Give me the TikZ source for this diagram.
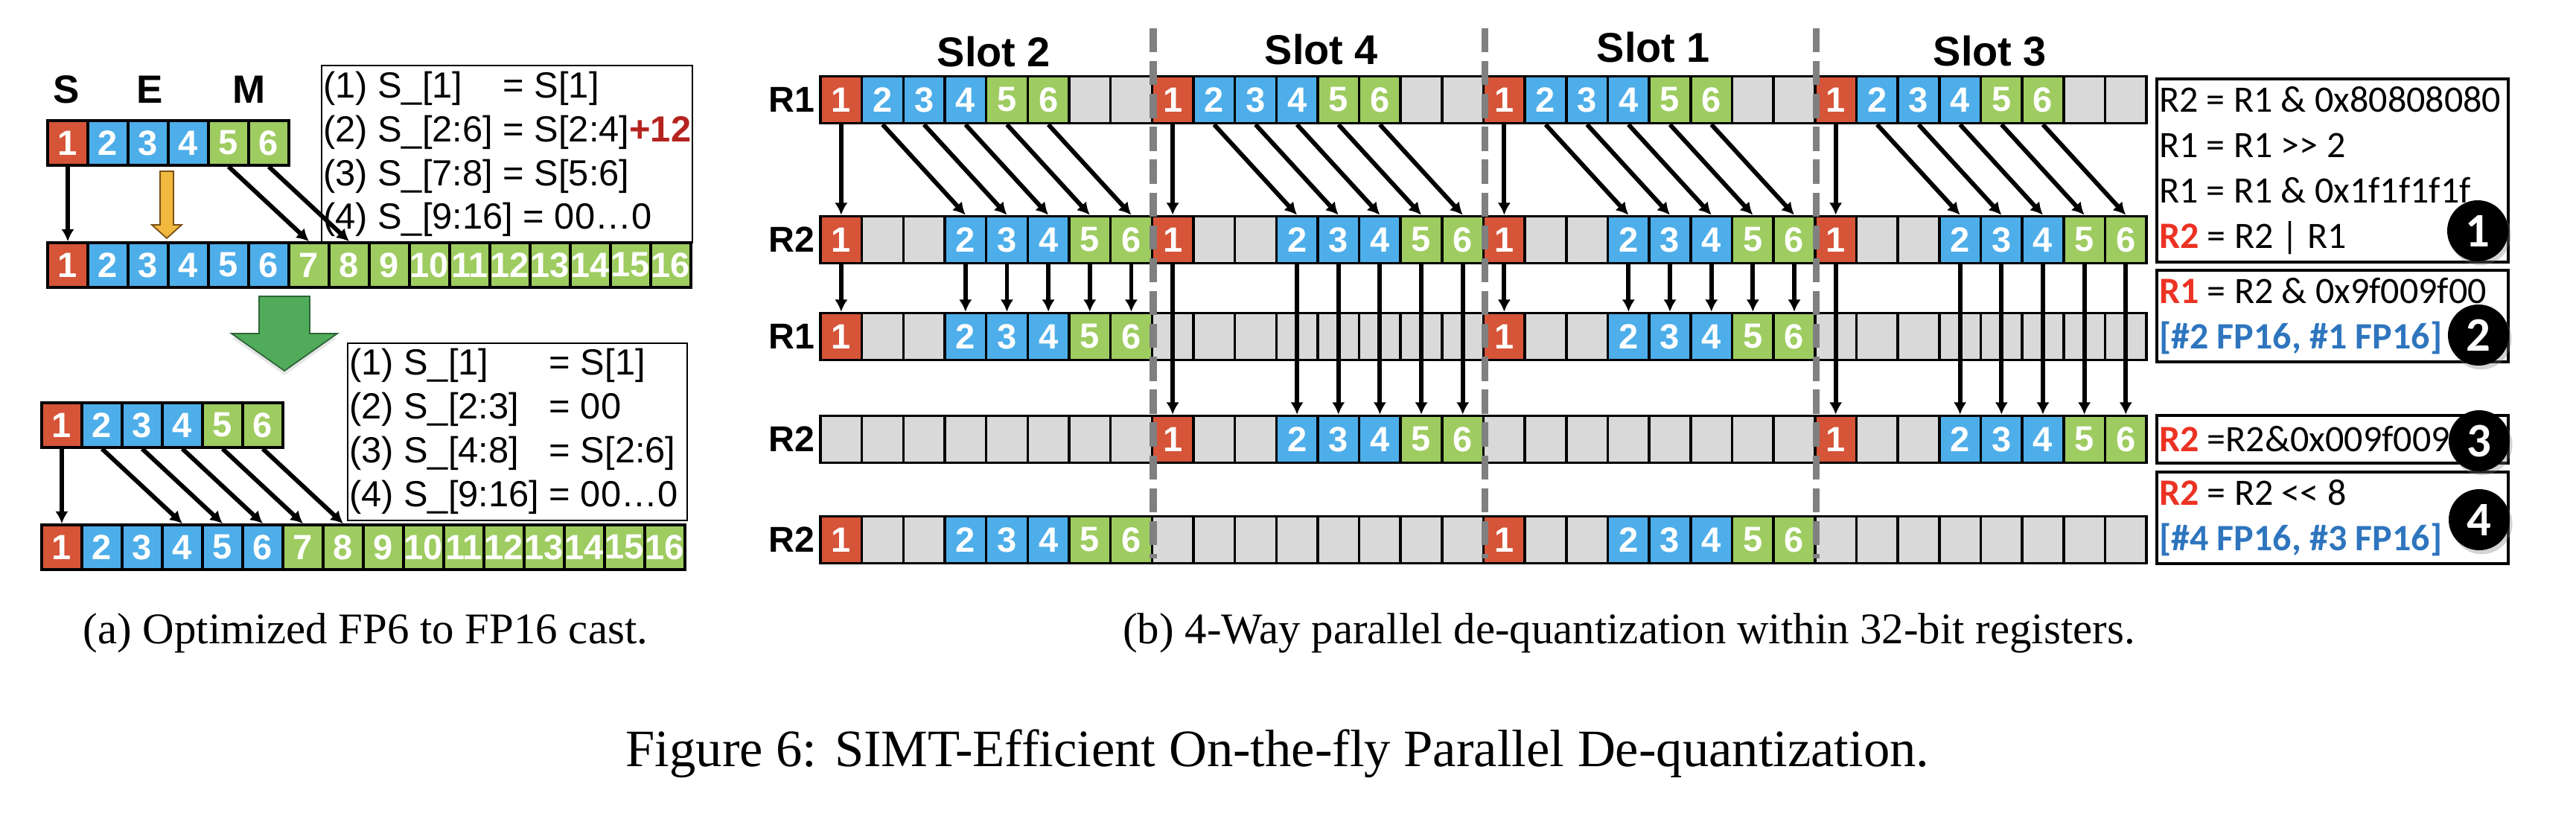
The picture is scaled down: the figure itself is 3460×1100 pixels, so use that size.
\documentclass[tikz,border=0pt]{standalone}
\usepackage{fontspec}
\setmainfont{Liberation Serif}
\setsansfont{Liberation Sans}
\newfontfamily\calfont{Carlito}
\usetikzlibrary{arrows.meta}
\usetikzlibrary{shadows}

\definecolor{CellRed}{RGB}{214,84,56}
\definecolor{CellBlue}{RGB}{77,174,234}
\definecolor{CellGreen}{RGB}{158,204,96}
\definecolor{CellGray}{RGB}{217,217,217}
\definecolor{RegRed}{RGB}{235,50,35}
\definecolor{FpBlue}{RGB}{46,117,190}
\definecolor{PlusRed}{RGB}{180,35,30}
\definecolor{ArrOrange}{RGB}{242,185,64}
\definecolor{ArrOrangeDark}{RGB}{120,80,20}
\definecolor{ArrGreen}{RGB}{80,172,90}
\definecolor{ArrGreenDark}{RGB}{45,100,55}
\definecolor{SepGray}{RGB}{128,128,128}

\def\px{0.17pt}
% one slot of R1, and one slot after the shift
\def\regpat{1/RedCell/1,2/BlueCell/2,3/BlueCell/3,4/BlueCell/4,5/GreenCell/5,6/GreenCell/6,7/GrayCell/{},8/GrayCell/{}}
\def\shiftpat{1/RedCell/1,2/GrayCell/{},3/GrayCell/{},4/BlueCell/2,5/BlueCell/3,6/BlueCell/4,7/GreenCell/5,8/GreenCell/6}

\begin{document}
\begin{tikzpicture}[x = 0.17pt, y = -0.17pt]
\tikzstyle{CellStyle}=[draw = black, line width = 0.6pt,
                       minimum width = 54*\px, minimum height = 60*\px,
                       inner sep = 0pt, text = white,
                       font = \sffamily\bfseries\fontsize{8}{8}\selectfont]
\tikzstyle{WideCell}=[CellStyle, minimum width = 55.66*\px, minimum height = 63*\px]
\tikzstyle{RedCell}=[fill = CellRed]
\tikzstyle{BlueCell}=[fill = CellBlue]
\tikzstyle{GreenCell}=[fill = CellGreen]
\tikzstyle{GrayCell}=[fill = CellGray]
\tikzstyle{Arr}=[-{Latex[length = 2.8pt, width = 3pt]}, line width = 1pt]
\tikzstyle{BoxStyle}=[draw = black, line width = 0.35pt, inner sep = 0pt]
\tikzstyle{FormulaText}=[font = \sffamily\fontsize{8.3}{10}\selectfont,
                         align = left, inner sep = 0pt, anchor = west]
\tikzstyle{OpBox}=[draw = black, line width = 0.55pt,
                   minimum width = 472*\px, inner sep = 0pt]
\tikzstyle{OpText}=[font = \calfont\fontsize{8.5}{10.4}\selectfont,
                    align = left, inner sep = 0pt, anchor = west]
\tikzstyle{NumDot}=[circle, fill = black, text = white, minimum size = 82*\px,
                    inner sep = 0pt, font = \calfont\bfseries\fontsize{11}{12}\selectfont,
                    drop shadow = {opacity = 0.35, shadow xshift = 0.6pt, shadow yshift = -0.9pt}]
\tikzstyle{FieldLabel}=[font = \sffamily\bfseries\fontsize{9}{10}\selectfont]
\tikzstyle{SlotLabel}=[font = \sffamily\bfseries\fontsize{9.5}{10}\selectfont]
\tikzstyle{RowLabel}=[font = \sffamily\bfseries\fontsize{8.2}{9}\selectfont]
\tikzstyle{SlotSep}=[draw = SepGray, line width = 1.6pt, dash pattern = on 5.5pt off 2pt]
\useasboundingbox (0,0) rectangle (3460,1100);

% (a) FP6 -> FP16, naive
\node[FieldLabel] (fS) at (89,120) {S};
\node[FieldLabel] (fE) at (201,120) {E};
\node[FieldLabel] (fM) at (335,120) {M};
\node[BoxStyle, minimum width = 498*\px, minimum height = 238*\px] (boxA) at (681,207) {};
\node[FormulaText] (txtA) at ([xshift = 0.35pt]boxA.west)
  {(1) S\_[1]\phantom{:6} = S[1]\\
   (2) S\_[2:6] = S[2:4]{\bfseries\color{PlusRed}+12}\\
   (3) S\_[7:8] = S[5:6]\\
   (4) S\_[9:16] = 00…0};
\foreach \i/\sty in {1/RedCell,2/BlueCell,3/BlueCell,4/BlueCell,5/GreenCell,6/GreenCell}
  \node[CellStyle, \sty] (s\i) at ({91+54*(\i-1)},192) {\i};
\foreach \i in {1,...,16} {
  \ifnum\i=1 \def\sty{RedCell}\else\ifnum\i<7 \def\sty{BlueCell}\else\def\sty{GreenCell}\fi\fi
  \node[CellStyle, \sty] (t\i) at ({91+54*(\i-1)},356) {\i};
}
\draw[Arr] (s1.south) -- (t1.north);
\draw[Arr] (s5.south) -- (t7.north);
\draw[Arr] (s6.south) -- (t8.north);
\filldraw[fill = ArrOrange, draw = ArrOrangeDark, line width = 0.3pt]
  (215,230) -- (233,230) -- (233,302) -- (244,302) -- (224,320) -- (204,302) -- (215,302) -- cycle;
\filldraw[fill = ArrGreen, draw = ArrGreenDark, line width = 0.3pt,
          drop shadow = {opacity = 0.2, shadow xshift = 0pt, shadow yshift = -1pt}]
  (348,398) -- (416,398) -- (416,448) -- (453,448) -- (382,498) -- (311,448) -- (348,448) -- cycle;

% (a) optimized
\node[BoxStyle, minimum width = 456*\px, minimum height = 238*\px] (boxB) at (695,580) {};
\node[FormulaText] (txtB) at ([xshift = 0.35pt]boxB.west)
  {\begin{tabular}{@{}l@{ }l@{}}
   (1) S\_[1] & = S[1]\\
   (2) S\_[2:3] & = 00\\
   (3) S\_[4:8] & = S[2:6]\\
   (4) S\_[9:16] & = 00…0
   \end{tabular}};
\foreach \i/\sty in {1/RedCell,2/BlueCell,3/BlueCell,4/BlueCell,5/GreenCell,6/GreenCell}
  \node[CellStyle, \sty] (m\i) at ({83+54*(\i-1)},571) {\i};
\foreach \i in {1,...,16} {
  \ifnum\i=1 \def\sty{RedCell}\else\ifnum\i<7 \def\sty{BlueCell}\else\def\sty{GreenCell}\fi\fi
  \node[CellStyle, \sty] (n\i) at ({83+54*(\i-1)},735) {\i};
}
\draw[Arr] (m1.south) -- (n1.north);
\foreach \k in {2,...,6} {
  \pgfmathtruncatemacro\dst{\k+2}
  \draw[Arr] (m\k.south) -- (n\dst.north);
}

% (b) four slots in one 32-bit register
\node[SlotLabel] (slot2) at (1335,70) {Slot 2};
\node[SlotLabel] (slot4) at (1775,67) {Slot 4};
\node[SlotLabel] (slot1) at (2221,64) {Slot 1};
\node[SlotLabel] (slot3) at (2673,69) {Slot 3};
\node[RowLabel] (ra) at (1063,134) {R1};
\node[RowLabel] (rb) at (1063,322) {R2};
\node[RowLabel] (rc) at (1063,452) {R1};
\node[RowLabel] (rd) at (1063,590) {R2};
\node[RowLabel] (re) at (1063,725) {R2};
\foreach \s in {0,...,3}
  \foreach \k/\sty/\lab in \regpat {
    \pgfmathtruncatemacro\i{8*\s+\k}
    \node[WideCell, \sty] (a\i) at ({1102+55.66*(\i-0.5)},134) {\lab};
  }
\foreach \s in {0,...,3}
  \foreach \k/\sty/\lab in \shiftpat {
    \pgfmathtruncatemacro\i{8*\s+\k}
    \node[WideCell, \sty] (b\i) at ({1102+55.66*(\i-0.5)},322) {\lab};
  }
\foreach \row/\y/\slots in {c/452/{0,2}, d/590/{1,3}, e/725/{0,2}} {
  \foreach \i in {1,...,32}
    \node[WideCell, GrayCell] (\row\i) at ({1102+55.66*(\i-0.5)},\y) {};
  \foreach \s in \slots
    \foreach \k/\sty/\lab in \shiftpat {
      \pgfmathtruncatemacro\i{8*\s+\k}
      \node[WideCell, \sty] (\row\i) at ({1102+55.66*(\i-0.5)},\y) {\lab};
    }
}
\foreach \s in {0,...,3}
  \foreach \k/\sh in {1/0,2/2,3/2,4/2,5/2,6/2} {
    \pgfmathtruncatemacro\src{8*\s+\k}
    \pgfmathtruncatemacro\dst{8*\s+\k+\sh}
    \draw[Arr] (a\src.south) -- (b\dst.north);
  }
\foreach \s/\row in {0/c,1/d,2/c,3/d}
  \foreach \k in {1,4,5,6,7,8} {
    \pgfmathtruncatemacro\src{8*\s+\k}
    \draw[Arr] (b\src.south) -- (\row\src.north);
  }
\foreach \c in {8,16,24}
  \draw[SlotSep] (a\c.east |- 0,38) -- (a\c.east |- 0,750);

% instructions
\node[OpBox, minimum height = 246*\px] (op1) at (3133,229) {};
\node[OpText] (op1t) at ([xshift = 0.6pt]op1.west)
  {R2 = R1 \& 0x80808080\\
   R1 = R1 >{}> 2\\
   R1 = R1 \& 0x1f1f1f1f\\
   {\bfseries\color{RegRed}R2} = R2 | R1};
\node[OpBox, minimum height = 123*\px] (op2) at (3133,424.5) {};
\node[OpText] (op2t) at ([xshift = 0.6pt]op2.west)
  {{\bfseries\color{RegRed}R1} = R2 \& 0x9f009f00\\
   {\bfseries\color{FpBlue}[\#2 FP16, \#1 FP16]}};
\node[OpBox, minimum height = 64*\px] (op3) at (3133,590) {};
\node[OpText] (op3t) at ([xshift = 0.6pt]op3.west)
  {{\bfseries\color{RegRed}R2} =R2\&0x009f009f};
\node[OpBox, minimum height = 123*\px] (op4) at (3133,695.5) {};
\node[OpText] (op4t) at ([xshift = 0.6pt]op4.west)
  {{\bfseries\color{RegRed}R2} = R2 <{}< 8\\
   {\bfseries\color{FpBlue}[\#4 FP16, \#3 FP16]}};
\node[NumDot] (d1) at (3328,310) {1};
\node[NumDot] (d2) at (3329,450) {2};
\node[NumDot] (d3) at (3330,592) {3};
\node[NumDot] (d4) at (3330,698) {4};

% captions
\node[font = \fontsize{10}{12}\selectfont] (capa) at (491,850) {(a) Optimized FP6 to FP16 cast.};
\node[font = \fontsize{10}{12}\selectfont] (capb) at (2188,850) {(b) 4-Way parallel de-quantization within 32-bit registers.};
\node[font = \fontsize{12}{14}\selectfont] (capfig) at (1716,1012) {Figure 6: SIMT-Efficient On-the-fly Parallel De-quantization.};
\end{tikzpicture}
\end{document}
